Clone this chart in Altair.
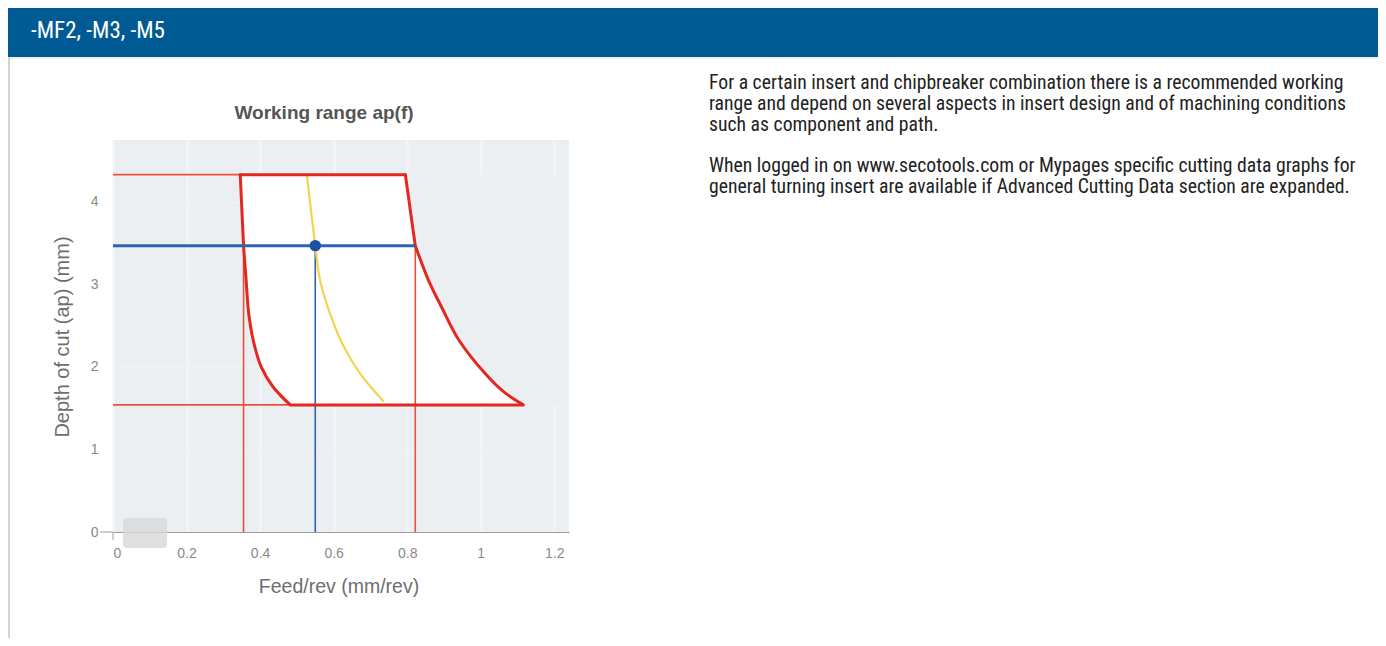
import altair as alt
import pandas as pd

# ---------------- data ----------------
# red working-range boundary
left_curve_f = [0.482, 0.435, 0.403, 0.381, 0.369, 0.362, 0.355]
left_curve_ap = [1.54, 1.76, 2.00, 2.33, 2.65, 3.05, 3.47]
right_curve_f = [1.116, 1.062, 1.012, 0.940, 0.893, 0.858, 0.822]
right_curve_ap = [1.54, 1.70, 1.92, 2.33, 2.73, 3.05, 3.47]
top_ap = 4.33
top_left_f = 0.346
top_right_f = 0.795
bottom_ap = 1.54

# yellow curve
yellow_f = [0.527, 0.550, 0.563, 0.590, 0.627, 0.672, 0.736]
yellow_ap = [4.33, 3.47, 3.05, 2.65, 2.25, 1.92, 1.58]

# operating point
op_f = 0.55
op_ap = 3.47

# reference lines: f, f2, ap, ap2, kind
seg_f = [0.0, 0.0, 0.355, 0.822, 0.55]
seg_f2 = [0.346, 0.482, 0.355, 0.822, 0.55]
seg_ap = [4.33, 1.54, 0.0, 0.0, 0.0]
seg_ap2 = [4.33, 1.54, 3.47, 3.47, 3.47]
seg_kind = ["red", "red", "red", "red", "blue"]

x_ticks = [0, 0.2, 0.4, 0.6, 0.8, 1, 1.2]
y_ticks = [0, 1, 2, 3, 4]

header_text = "-MF2, -M3, -M5"
chart_title = "Working range ap(f)"
x_title = "Feed/rev (mm/rev)"
y_title = "Depth of cut (ap) (mm)"
para1 = [
    "For a certain insert and chipbreaker combination there is a recommended working",
    "range and depend on several aspects in insert design and of machining conditions",
    "such as component and path.",
]
para2 = [
    "When logged in on www.secotools.com or Mypages specific cutting data graphs for",
    "general turning insert are available if Advanced Cutting Data section are expanded.",
]

# ---------------- layout ----------------
PAGE_W, PAGE_H = 1370, 630
PL, PT = 113, 140
W, H = 456, 392
pad_left = PL - 8
pad_top = PT - 8
pad_right = PAGE_W - pad_left - W
pad_bottom = PAGE_H - pad_top - H


def px(xp):
    return xp - PL


def py(yp):
    return yp - PT


X_MAX, Y_MAX = 1.24, 4.75
xs = alt.Scale(domain=[0, X_MAX], nice=False, zero=False)
ys = alt.Scale(domain=[0, Y_MAX], nice=False, zero=False)

BG = "#eceff2"
RED = "#e3281e"
RED_THIN = "#e8503f"
BLUE = "#2f62b3"
DOT = "#1f4fa0"
YELLOW = "#f1d54e"
AXIS_TXT = "#8a8a8a"
TITLE_TXT = "#6e6e6e"
NARROW = "Roboto Condensed"

one = pd.DataFrame({"a": [0]})

# tables built from the arrays above
left_df = pd.DataFrame({"f": left_curve_f, "ap": left_curve_ap})
right_df = pd.DataFrame({"f": right_curve_f, "ap": right_curve_ap})
fill_left_df = pd.DataFrame({"f": left_curve_f + [top_left_f], "ap": left_curve_ap + [top_ap]})
fill_right_df = pd.DataFrame({"f": right_curve_f + [top_right_f], "ap": right_curve_ap + [top_ap]})
edges_df = pd.DataFrame({
    "f": [top_left_f, left_curve_f[0], left_curve_f[-1], right_curve_f[-1]],
    "f2": [top_right_f, right_curve_f[0], top_left_f, top_right_f],
    "ap": [top_ap, bottom_ap, left_curve_ap[-1], right_curve_ap[-1]],
    "ap2": [top_ap, bottom_ap, top_ap, top_ap],
})
yellow_df = pd.DataFrame({"f": yellow_f, "ap": yellow_ap})
seg_df = pd.DataFrame({"f": seg_f, "f2": seg_f2, "ap": seg_ap, "ap2": seg_ap2, "kind": seg_kind})
op_df = pd.DataFrame({"f": [op_f], "ap": [op_ap]})
op_line_df = pd.DataFrame({"f": [0.0], "f2": [right_curve_f[-1]], "ap": [op_ap]})

# ---------------- decorative page elements ----------------
header = alt.Chart(one).mark_rect(color="#005a94").encode(
    x=alt.value(px(8)), x2=alt.value(px(1378)), y=alt.value(py(8)), y2=alt.value(py(57))
)
left_border = alt.Chart(one).mark_rule(color="#d4d4d4", strokeWidth=2).encode(
    x=alt.value(px(9)), y=alt.value(py(57)), y2=alt.value(py(638))
)
under_header = alt.Chart(one).mark_rule(color="#e2e2e2", strokeWidth=1).encode(
    x=alt.value(px(9)), x2=alt.value(px(1378)), y=alt.value(py(58))
)
header_label = alt.Chart(one).mark_text(
    text=header_text, color="white", fontSize=23, font=NARROW,
    align="left", baseline="middle"
).encode(x=alt.value(px(31)), y=alt.value(py(31)))

title_mark = alt.Chart(one).mark_text(
    text=chart_title, color="#555555", fontSize=19, fontWeight="bold",
    font="Liberation Sans", align="center", baseline="middle"
).encode(x=alt.value(px(324)), y=alt.value(py(113)))

xt = alt.Chart(one).mark_text(
    text=x_title, color=TITLE_TXT, fontSize=19.5, font="Liberation Sans",
    align="center", baseline="middle"
).encode(x=alt.value(px(339)), y=alt.value(py(587)))
yt = alt.Chart(one).mark_text(
    text=y_title, color=TITLE_TXT, fontSize=20, font="Liberation Sans",
    align="center", baseline="middle", angle=270
).encode(x=alt.value(px(63)), y=alt.value(py(337)))

p1 = alt.Chart(one).mark_text(
    text=para1, color="#222222", fontSize=19.7, font=NARROW,
    align="left", baseline="alphabetic", lineHeight=21
).encode(x=alt.value(px(709)), y=alt.value(py(89)))
p2 = alt.Chart(one).mark_text(
    text=para2, color="#222222", fontSize=19.7, font=NARROW,
    align="left", baseline="alphabetic", lineHeight=21
).encode(x=alt.value(px(709)), y=alt.value(py(172)))

watermark = alt.Chart(one).mark_rect(color="#d8d8d8", opacity=0.8, cornerRadius=3).encode(
    x=alt.value(px(123)), x2=alt.value(px(167)), y=alt.value(py(518)), y2=alt.value(py(548))
)

# ---------------- chart marks ----------------
fill_white = alt.Chart(fill_left_df).mark_area(
    color="white", orient="horizontal", interpolate="monotone"
).encode(
    y=alt.Y("ap:Q", scale=ys), x=alt.X("f:Q", scale=xs), x2=alt.datum(right_curve_f[0]),
)
fill_grey = alt.Chart(fill_right_df).mark_area(
    color=BG, orient="horizontal", interpolate="monotone"
).encode(
    y=alt.Y("ap:Q", scale=ys), x=alt.X("f:Q", scale=xs), x2=alt.datum(X_MAX),
)

thin = alt.Chart(seg_df).mark_rule(strokeWidth=1.6).encode(
    x=alt.X("f:Q", scale=xs), x2="f2:Q",
    y=alt.Y("ap:Q", scale=ys), y2="ap2:Q",
    color=alt.Color("kind:N", scale=alt.Scale(domain=["red", "blue"], range=[RED_THIN, BLUE]), legend=None),
)
thick = alt.Chart(op_line_df).mark_rule(strokeWidth=3, color=BLUE).encode(
    x=alt.X("f:Q", scale=xs), x2="f2:Q", y=alt.Y("ap:Q", scale=ys),
)

yellow = alt.Chart(yellow_df).mark_line(color=YELLOW, strokeWidth=2.2, interpolate="catmull-rom").encode(
    x=alt.X("f:Q", scale=xs), y=alt.Y("ap:Q", scale=ys), order="ap:Q"
)

left_curve = alt.Chart(left_df).mark_line(color=RED, strokeWidth=3, interpolate="catmull-rom").encode(
    x=alt.X("f:Q", scale=xs), y=alt.Y("ap:Q", scale=ys), order="ap:Q"
)
right_curve = alt.Chart(right_df).mark_line(color=RED, strokeWidth=3, interpolate="catmull-rom").encode(
    x=alt.X("f:Q", scale=xs), y=alt.Y("ap:Q", scale=ys), order="ap:Q"
)
edges = alt.Chart(edges_df).mark_rule(color=RED, strokeWidth=3, strokeCap="round").encode(
    x=alt.X("f:Q", scale=xs), x2="f2:Q", y=alt.Y("ap:Q", scale=ys), y2="ap2:Q"
)

dot = alt.Chart(op_df).mark_point(filled=True, color=DOT, size=130, opacity=1).encode(
    x=alt.X("f:Q", scale=xs), y=alt.Y("ap:Q", scale=ys)
)

axes = alt.Chart(pd.DataFrame({"f": [0.0], "ap": [0.0]})).mark_point(opacity=0).encode(
    x=alt.X("f:Q", scale=xs, title=None, axis=alt.Axis(
        values=x_ticks, format="~g",
        grid=True, gridColor="#f4f5f7", gridWidth=2, domain=True, domainColor="#a09a98",
        ticks=False, labelPadding=14, labelFontSize=14, labelColor=AXIS_TXT,
        labelFont="Liberation Sans")),
    y=alt.Y("ap:Q", scale=ys, title=None, axis=alt.Axis(
        values=y_ticks, format="~g", grid=True, gridColor="#f1f2f4", gridWidth=1, domain=False,
        ticks=False, labelPadding=15, labelFontSize=14, labelColor=AXIS_TXT,
        labelFont="Liberation Sans")),
)

baseline_ext = alt.Chart(one).mark_rule(color="#a09a98", strokeWidth=1).encode(
    x=alt.value(px(100)), x2=alt.value(0), y=alt.value(H)
)
zero_tick = alt.Chart(one).mark_rule(color="#a09a98", strokeWidth=1).encode(
    x=alt.value(0), y=alt.value(H), y2=alt.value(H + 8)
)

chart = alt.layer(
    header, under_header, left_border, header_label, title_mark, xt, yt, p1, p2,
    axes, fill_white, fill_grey, watermark, thin, yellow, left_curve, right_curve, edges,
    thick, dot, baseline_ext, zero_tick
).properties(
    width=W, height=H,
    autosize=alt.AutoSizeParams(type="none"),
    padding={"left": pad_left, "top": pad_top, "right": pad_right, "bottom": pad_bottom},
).configure(
    background="white",
    view=alt.ViewConfig(fill=BG, stroke=None),
)

chart.save("out.html", embed_options={"renderer": "svg", "actions": False})
